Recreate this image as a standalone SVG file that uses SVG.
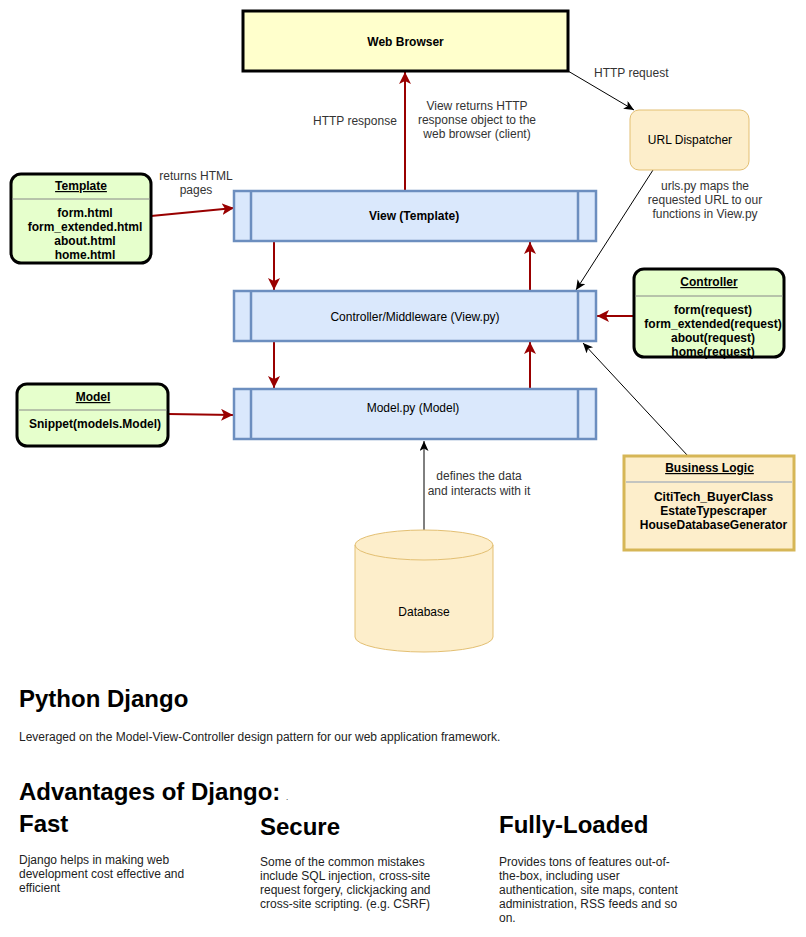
<svg xmlns="http://www.w3.org/2000/svg" width="806" height="937" viewBox="0 0 806 937">
<style>
text{font-family:"Liberation Sans",Arial,sans-serif;fill:#000}
.b{font-weight:bold}
.t12{font-size:12px}
.t11{font-size:11px}
.lbl{font-size:12px;fill:#333}
.u{text-decoration:underline}
.green{fill:#e6ffcc;stroke:#000;stroke-width:3}
.blue{fill:#dae8fc;stroke:#6c8ebf;stroke-width:2.5}
.sep{stroke:#888;stroke-width:1}
.red{stroke:#990000;stroke-width:2;fill:none}
.blk{stroke:#000;stroke-width:1;fill:none}
.h1{font-size:24px;font-weight:bold}
.body{font-size:12px;fill:#222}
</style>
<defs>
<marker id="ar" markerUnits="userSpaceOnUse" markerWidth="14" markerHeight="14" refX="12" refY="6" orient="auto">
<path d="M0,0 L12,6 L0,12 L3,6 z" fill="#990000"/>
</marker>
<marker id="ab" markerUnits="userSpaceOnUse" markerWidth="12" markerHeight="12" refX="10" refY="4.5" orient="auto">
<path d="M0,0 L10,4.5 L0,9 L2.5,4.5 z" fill="#000"/>
</marker>
</defs>
<rect width="806" height="937" fill="#fff"/>

<g id="connectors">
<line x1="568" y1="71" x2="634" y2="110" class="blk" marker-end="url(#ab)"/>
<line x1="405" y1="191" x2="405" y2="72" class="red" marker-end="url(#ar)"/>
<line x1="151" y1="216" x2="234" y2="208" class="red" marker-end="url(#ar)"/>
<line x1="274" y1="241" x2="274" y2="290" class="red" marker-end="url(#ar)"/>
<line x1="530" y1="291" x2="530" y2="242" class="red" marker-end="url(#ar)"/>
<line x1="274" y1="341" x2="274" y2="388" class="red" marker-end="url(#ar)"/>
<line x1="530" y1="389" x2="530" y2="342" class="red" marker-end="url(#ar)"/>
<line x1="653" y1="170" x2="576" y2="290" class="blk" marker-end="url(#ab)"/>
<line x1="634" y1="316" x2="597" y2="316" class="red" marker-end="url(#ar)"/>
<line x1="688" y1="456" x2="583" y2="343" class="blk" marker-end="url(#ab)"/>
<line x1="168" y1="414" x2="233" y2="415" class="red" marker-end="url(#ar)"/>
<line x1="424" y1="530" x2="424" y2="441" class="blk" marker-end="url(#ab)"/>
<text class="lbl" x="594" y="77">HTTP request</text>
<text class="lbl" x="313" y="125">HTTP response</text>
<text class="lbl" text-anchor="middle" x="477" y="110">View returns HTTP</text>
<text class="lbl" text-anchor="middle" x="477" y="124">response object to the</text>
<text class="lbl" text-anchor="middle" x="477" y="138">web browser (client)</text>
<text class="lbl" text-anchor="middle" x="196" y="180">returns HTML</text>
<text class="lbl" text-anchor="middle" x="196" y="194">pages</text>
<text class="lbl" text-anchor="middle" x="705" y="190">urls.py maps the</text>
<text class="lbl" text-anchor="middle" x="705" y="204">requested URL to our</text>
<text class="lbl" text-anchor="middle" x="705" y="218">functions in View.py</text>
<text class="lbl" text-anchor="middle" x="479" y="480">defines the data</text>
<text class="lbl" text-anchor="middle" x="479" y="495">and interacts with it</text>
</g>

<g id="web-browser">
<rect x="243" y="11" width="325" height="60" fill="#ffffcc" stroke="#000" stroke-width="3"/>
<text class="t12 b" x="405.5" y="46" text-anchor="middle">Web Browser</text>
</g>

<g id="url-dispatcher">
<rect x="630" y="110" width="119" height="60" rx="9" fill="#fdeecb" stroke="#e3bf72" stroke-width="1"/>
<text class="t12" x="690" y="144" text-anchor="middle" fill="#222">URL Dispatcher</text>
</g>

<g id="view">
<rect x="234" y="191" width="362" height="50" class="blue"/>
<line x1="251" y1="191" x2="251" y2="241" class="blue"/>
<line x1="578" y1="191" x2="578" y2="241" class="blue"/>
<text class="t12 b" x="414" y="220" text-anchor="middle" fill="#222">View (Template)</text>
</g>

<g id="controller-middleware">
<rect x="234" y="291" width="362" height="50" class="blue"/>
<line x1="251" y1="291" x2="251" y2="341" class="blue"/>
<line x1="578" y1="291" x2="578" y2="341" class="blue"/>
<text class="t12" x="415" y="321" text-anchor="middle" fill="#111">Controller/Middleware (View.py)</text>
</g>

<g id="model-py">
<rect x="234" y="389" width="362" height="50" class="blue"/>
<line x1="251" y1="389" x2="251" y2="439" class="blue"/>
<line x1="578" y1="389" x2="578" y2="439" class="blue"/>
<text class="t12" x="413" y="412" text-anchor="middle" fill="#111">Model.py (Model)</text>
</g>

<g id="template">
<rect x="11" y="174" width="140" height="89" rx="10" class="green"/>
<line x1="12" y1="199" x2="150" y2="199" class="sep"/>
<text class="t12 b u" x="81" y="190" text-anchor="middle">Template</text>
<text class="t12 b" x="85" y="217" text-anchor="middle">form.html</text>
<text class="t12 b" x="85" y="231" text-anchor="middle">form_extended.html</text>
<text class="t12 b" x="85" y="245" text-anchor="middle">about.html</text>
<text class="t12 b" x="85" y="259" text-anchor="middle">home.html</text>
</g>

<g id="controller">
<rect x="634" y="269" width="150" height="88" rx="10" class="green"/>
<line x1="635" y1="296" x2="783" y2="296" class="sep"/>
<text class="t12 b u" x="709" y="286" text-anchor="middle">Controller</text>
<text class="t12 b" x="713" y="314" text-anchor="middle">form(request)</text>
<text class="t12 b" x="713" y="328" text-anchor="middle">form_extended(request)</text>
<text class="t12 b" x="713" y="342" text-anchor="middle">about(request)</text>
<text class="t12 b" x="713" y="356" text-anchor="middle">home(request)</text>
</g>

<g id="model">
<rect x="17" y="384" width="151" height="62" rx="10" class="green"/>
<line x1="18" y1="410" x2="167" y2="410" class="sep"/>
<text class="t12 b u" x="93" y="401" text-anchor="middle">Model</text>
<text class="t12 b" x="95" y="428" text-anchor="middle">Snippet(models.Model)</text>
</g>

<g id="business-logic">
<rect x="624" y="456" width="170" height="94" fill="#fdeecb" stroke="#d6b656" stroke-width="3"/>
<line x1="626" y1="482" x2="792" y2="482" stroke="#8a9bb5" stroke-width="1"/>
<text class="t12 b u" x="709.5" y="472" text-anchor="middle">Business Logic</text>
<text class="t12 b" x="713.5" y="501" text-anchor="middle">CitiTech_BuyerClass</text>
<text class="t12 b" x="713.5" y="515" text-anchor="middle">EstateTypescraper</text>
<text class="t12 b" x="713.5" y="529" text-anchor="middle">HouseDatabaseGenerator</text>
</g>

<g id="database">
<path d="M355,545 a69,15 0 0 1 138,0 v92 a69,15 0 0 1 -138,0 z" fill="#fdeecb" stroke="#e3bf72" stroke-width="1"/>
<path d="M355,545 a69,15 0 0 0 138,0" fill="none" stroke="#e3bf72" stroke-width="1"/>
<text class="t12" x="424" y="616" text-anchor="middle" fill="#333">Database</text>
</g>

<g id="description">
<text class="h1" x="19" y="707">Python Django</text>
<text class="body" x="19" y="741">Leveraged on the Model-View-Controller design pattern for our web application framework.</text>
<text class="h1" x="19" y="800">Advantages of Django:</text>
<text x="286" y="800" font-size="8" fill="#bbb">.</text>
<text class="h1" x="19" y="832">Fast</text>
<text class="h1" x="260" y="835">Secure</text>
<text class="h1" x="499" y="833">Fully-Loaded</text>
<text class="body" x="19" y="864">Django helps in making web</text>
<text class="body" x="19" y="878">development cost effective and</text>
<text class="body" x="19" y="892">efficient</text>
<text class="body" x="260" y="866">Some of the common mistakes</text>
<text class="body" x="260" y="880">include SQL injection, cross-site</text>
<text class="body" x="260" y="894">request forgery, clickjacking and</text>
<text class="body" x="260" y="908">cross-site scripting. (e.g. CSRF)</text>
<text class="body" x="499" y="866">Provides tons of features out-of-</text>
<text class="body" x="499" y="880">the-box, including user</text>
<text class="body" x="499" y="894">authentication, site maps, content</text>
<text class="body" x="499" y="908">administration, RSS feeds and so</text>
<text class="body" x="499" y="922">on.</text>
</g>
</svg>
